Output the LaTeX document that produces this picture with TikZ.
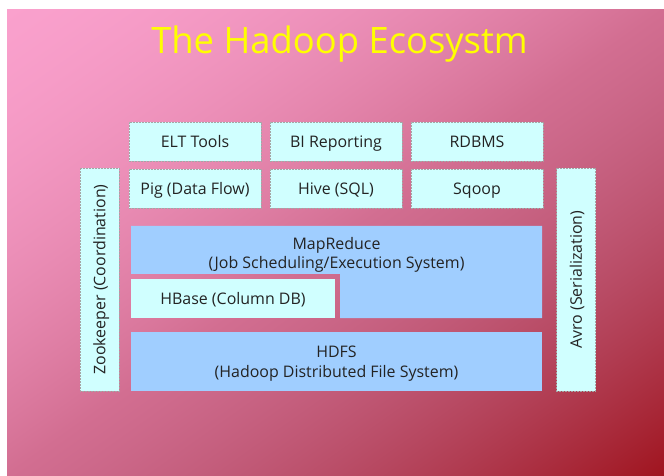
\documentclass[tikz,border=0pt]{standalone}
\usepackage{fontspec}
\setmainfont{Open Sans}
\definecolor{tilecyan}{RGB}{208,255,255}
\definecolor{tileblue}{RGB}{160,206,255}
\definecolor{edgegrey}{RGB}{165,165,165}
\definecolor{inkgrey}{RGB}{35,35,35}
\definecolor{titleyellow}{RGB}{255,255,0}
% Diagonal backdrop, 658bp x 467bp: pink at the upper left, mauve along the
% other diagonal, deep red at the lower right.
% t = (x/W + (H-y)/H)/2, d = t - 0.5, u = 1 + d - |d|, s = d + |d|
% first half eased by f = u(0.3 + 0.7u); second half: red linear in s,
% green and blue eased by g = s(1+s)/2
\pgfdeclarefunctionalshading{backdrop}{\pgfpointorigin}{\pgfpoint{658bp}{467bp}}{}{%
  467 exch sub 467 div exch 658 div add 2 div
  0.5 sub dup abs
  2 copy sub 1 add
  3 1 roll add
  exch dup 0.7 mul 0.3 add mul exch
  dup dup 1 add mul 0.5 mul
  2 index -0.156 mul 2 index -0.197 mul add 0.980 add
  3 index -0.200 mul 2 index -0.353 mul add 0.631 add
  4 index -0.235 mul 3 index -0.451 mul add 0.804 add
  6 -3 roll pop pop pop
}
\tikzset{
  boxfont/.style={font=\fontsize{16}{20}\selectfont, text=inkgrey},
  tile/.style={boxfont, rectangle, inner sep=0pt, fill=tilecyan,
    draw=edgegrey, dash pattern=on 2bp off 1bp, line width=0.5bp,
    text height=11.6bp, text depth=0pt},
  tilewide/.style={tile, minimum width=132bp, minimum height=39bp},
  tiletall/.style={tile, rotate=90, minimum width=223bp, minimum height=39bp},
  bluetile/.style={fill=tileblue},
  twoline/.style={boxfont, align=center, inner sep=0pt, anchor=base}
}
\begin{document}
\begin{tikzpicture}[x=1bp,y=-1bp]
  % canvas and gradient backdrop
  \useasboundingbox (0,0) rectangle (664,476);
  \fill[white] (0,0) rectangle (664,476);
  \node[inner sep=0pt, outer sep=0pt, anchor=north west] (backdrop) at (6,9)
    {\pgfuseshading{backdrop}};

  % title
  \node[anchor=base, inner sep=0pt, font=\fontsize{36.5}{40}\selectfont, text=titleyellow]
    (title) at (339.5,54) {The Hadoop Ecosystm};

  % top two rows of tools
  \node[tilewide] (elt)   at (195,141.5) {ELT Tools};
  \node[tilewide] (bi)    at (336,141.5) {BI Reporting};
  \node[tilewide] (rdbms) at (477,141.5) {RDBMS};
  \node[tilewide] (pig)   at (195,188.5) {Pig (Data Flow)};
  \node[tilewide] (hive)  at (336,188.5) {Hive (SQL)};
  \node[tilewide] (sqoop) at (477,188.5) {Sqoop};

  % side columns
  \node[tiletall] (zoo)  at (99.5,279.5) {Zookeeper (Coordination)};
  \node[tiletall] (avro) at (576,279.5)  {Avro (Serialization)};

  % MapReduce, an L-shaped block wrapping HBase
  \fill[bluetile] (131,226) -- (542,226) -- (542,318) -- (340,318)
    -- (340,274) -- (131,274) -- cycle;
  \node[twoline] (mapreduce) at (336.5,269)
    {MapReduce\\(Job Scheduling/Execution System)};

  \node[tile, minimum width=204bp, minimum height=39bp, draw=none]
    (hbase) at (233,298.5) {HBase (Column DB)};

  % HDFS base layer
  \fill[bluetile] (131,332) rectangle (542,391);
  \node[twoline] (hdfs) at (336.5,377)
    {HDFS\\(Hadoop Distributed File System)};
\end{tikzpicture}
\end{document}
